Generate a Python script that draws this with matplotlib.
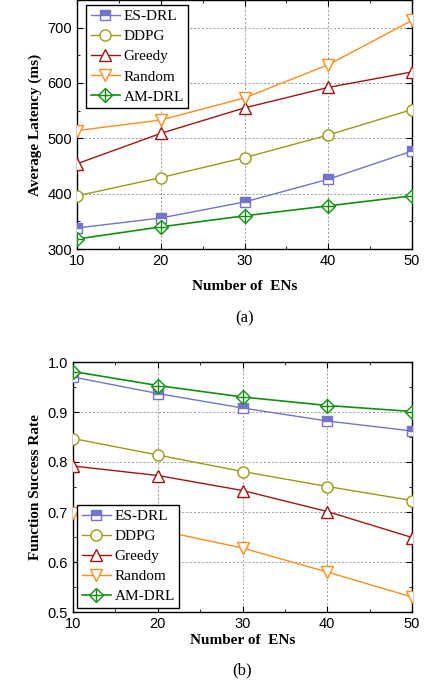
import matplotlib
matplotlib.use('Agg')
import matplotlib.pyplot as plt
from matplotlib.ticker import MultipleLocator
from matplotlib.lines import Line2D

# 数据
ens = [10, 20, 30, 40, 50]
names = ['ES-DRL', 'DDPG', 'Greedy', 'Random', 'AM-DRL']

lat_esdrl = [338, 356, 385, 426, 477]
lat_ddpg = [396, 429, 465, 506, 552]
lat_greedy = [454, 509, 555, 592, 620]
lat_random = [514, 533, 573, 633, 713]
lat_amdrl = [318, 340, 360, 378, 396]

sr_esdrl = [0.970, 0.937, 0.908, 0.882, 0.862]
sr_ddpg = [0.847, 0.814, 0.781, 0.751, 0.723]
sr_greedy = [0.792, 0.773, 0.743, 0.701, 0.649]
sr_random = [0.698, 0.664, 0.628, 0.580, 0.530]
sr_amdrl = [0.981, 0.953, 0.930, 0.913, 0.901]

colors = ['#7474c8', '#9a9a14', '#a01414', '#ff8c1e', '#109010']
serif = ['Liberation Serif', 'DejaVu Serif']
sans = ['Liberation Sans', 'DejaVu Sans']

fig = plt.figure(figsize=(4.24, 6.87), dpi=100)
ax1 = fig.add_axes([77/424, 1-249/687, 335/424, 249/687])
ax2 = fig.add_axes([73/424, 1-612/687, 339/424, 250/687])


def draw(ax, series):
    handles = []
    ms = 8
    for k, (y, c) in enumerate(zip(series, colors)):
        if k == 0:
            ax.plot(ens, y, color=c, lw=1, marker='s', ms=7, fillstyle='top',
                    markerfacecolor=c, markerfacecoloralt='white', markeredgecolor=c, zorder=3)
            h = Line2D([], [], color=c, lw=1, marker='s', ms=7, fillstyle='top',
                       markerfacecolor=c, markerfacecoloralt='white', markeredgecolor=c)
        elif k == 1:
            ax.plot(ens, y, color=c, lw=1, marker='o', ms=ms, markerfacecolor='white', markeredgecolor=c, zorder=3)
            h = Line2D([], [], color=c, lw=1, marker='o', ms=ms, markerfacecolor='white', markeredgecolor=c)
        elif k == 2:
            ax.plot(ens, y, color=c, lw=1, marker='^', ms=ms, markerfacecolor='white', markeredgecolor=c, zorder=3)
            h = Line2D([], [], color=c, lw=1, marker='^', ms=ms, markerfacecolor='white', markeredgecolor=c)
        elif k == 3:
            ax.plot(ens, y, color=c, lw=1, marker='v', ms=ms, markerfacecolor='white', markeredgecolor=c, zorder=3)
            h = Line2D([], [], color=c, lw=1, marker='v', ms=ms, markerfacecolor='white', markeredgecolor=c)
        else:
            ax.plot(ens, y, color=c, lw=1.2, marker='D', ms=7, markerfacecolor='white', markeredgecolor=c, zorder=3)
            ax.plot(ens, y, ls='none', marker='+', ms=9, markeredgecolor=c, zorder=4)
            h = (Line2D([], [], color=c, lw=1.2, marker='D', ms=7, markerfacecolor='white', markeredgecolor=c),
                 Line2D([], [], ls='none', marker='+', ms=9, markeredgecolor=c))
        handles.append(h)
    ax.set_xlim(10, 50)
    ax.xaxis.set_major_locator(MultipleLocator(10))
    ax.xaxis.set_minor_locator(MultipleLocator(5))
    ax.grid(True, which='major', linestyle=(0, (2, 2)), color='#999999', linewidth=0.7)
    ax.tick_params(which='both', direction='in', top=True, right=True, labelsize=10.5)
    ax.tick_params(which='major', length=4)
    ax.tick_params(which='minor', length=2.5)
    for lab in ax.get_xticklabels() + ax.get_yticklabels():
        lab.set_family(sans)
    for s in ax.spines.values():
        s.set_linewidth(1.0)
    return handles


h1 = draw(ax1, [lat_esdrl, lat_ddpg, lat_greedy, lat_random, lat_amdrl])
ax1.set_ylim(300, 750)
ax1.yaxis.set_major_locator(MultipleLocator(100))
ax1.yaxis.set_minor_locator(MultipleLocator(50))
ax1.set_xlabel('Number of  ENs', family=serif, fontweight='bold', fontsize=11, labelpad=9)
ax1.set_ylabel('Average Latency (ms)', family=serif, fontweight='bold', fontsize=11)
leg1 = ax1.legend(h1, names, loc='upper left', bbox_to_anchor=(0.027, 0.98), prop={'family': serif, 'size': 11},
                  fancybox=False, edgecolor='black', framealpha=1, handlelength=1.9, borderpad=0.3,
                  labelspacing=0.42, handletextpad=0.25, borderaxespad=0)
leg1.get_frame().set_linewidth(1.0)

h2 = draw(ax2, [sr_esdrl, sr_ddpg, sr_greedy, sr_random, sr_amdrl])
ax2.set_ylim(0.5, 1.0)
ax2.yaxis.set_major_locator(MultipleLocator(0.1))
ax2.yaxis.set_minor_locator(MultipleLocator(0.05))
ax2.set_xlabel('Number of  ENs', family=serif, fontweight='bold', fontsize=11, labelpad=2)
ax2.set_ylabel('Function Success Rate', family=serif, fontweight='bold', fontsize=11)
leg2 = ax2.legend(h2, names, loc='lower left', bbox_to_anchor=(0.012, 0.016), prop={'family': serif, 'size': 11},
                  fancybox=False, edgecolor='black', framealpha=1, handlelength=1.9, borderpad=0.3,
                  labelspacing=0.42, handletextpad=0.25, borderaxespad=0)
leg2.get_frame().set_linewidth(1.0)

fig.text(0.5 * (77 + 412) / 424, 1 - 318/687, '(a)', ha='center', va='center', family=serif, fontsize=12)
fig.text(0.5 * (73 + 412) / 424, 1 - 670/687, '(b)', ha='center', va='center', family=serif, fontsize=12)

fig.savefig('out.png', dpi=100)
